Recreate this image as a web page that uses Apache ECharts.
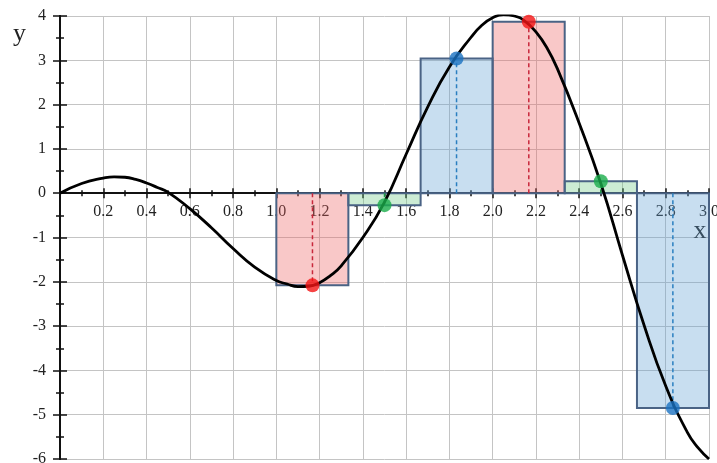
<!DOCTYPE html>
<html>
<head>
<meta charset="utf-8">
<script src="https://cdn.jsdelivr.net/npm/echarts@6/dist/echarts.min.js"></script>
<style>
html,body{margin:0;padding:0;background:#fff;}
#chart{width:717px;height:463px;}
</style>
</head>
<body>
<div id="chart"></div>
<script>
// Curve y = f(x)
const curveX = [0, 0.1, 0.2, 0.25, 0.3, 0.35, 0.4, 0.45, 0.5, 0.6, 0.7, 0.8, 0.9, 1.0, 1.05, 1.1, 1.15, 1.2, 1.25, 1.3, 1.4, 1.5, 1.6, 1.7, 1.8, 1.9, 1.95, 2.0, 2.05, 2.1, 2.15, 2.2, 2.25, 2.3, 2.4, 2.5, 2.6, 2.7, 2.8, 2.9, 2.95, 3.0];
const curveY = [0, 0.22, 0.34, 0.37, 0.36, 0.31, 0.23, 0.13, 0.02, -0.35, -0.78, -1.25, -1.67, -1.97, -2.05, -2.11, -2.1, -2.02, -1.86, -1.64, -1.0, -0.2, 0.88, 1.95, 2.85, 3.52, 3.79, 3.96, 4.03, 4.0, 3.88, 3.64, 3.29, 2.8, 1.58, 0.22, -1.4, -2.98, -4.35, -5.4, -5.75, -6.0];

// Riemann rectangles on [1, 3], sample at midpoints
const leftEdges  = [1.0, 1.333, 1.667, 2.0, 2.333, 2.667];
const rightEdges = [1.333, 1.667, 2.0, 2.333, 2.667, 3.0];
const sampleX    = [1.167, 1.5, 1.833, 2.167, 2.5, 2.833];
const sampleY    = [-2.08, -0.27, 3.04, 3.87, 0.27, -4.85];

// Axis ranges / ticks
const xMin = 0, xMax = 3.0, xStep = 0.2;
const yMin = -6, yMax = 4, yStep = 1;

// Layout
const W = 717, H = 463;
const gridL = 60, gridR = 8, gridT = 16, gridB = 4;
const plotH = H - gridT - gridB;
const zeroOffset = -plotH * (0 - yMin) / (yMax - yMin); // move x axis up to y = 0

// Styles (per rectangle kind)
const fills  = ['rgba(238,98,98,0.35)', 'rgba(109,201,132,0.35)', 'rgba(98,161,212,0.35)'];
const dashes = ['#c8283c', '#1f9a48', '#2a7fc0'];
const dots   = ['#f41414', '#19ad4a', '#1a72c2'];
const kindOf = i => i % 3;

const serif = '"Liberation Serif","DejaVu Serif",serif';

const rectData = leftEdges.map((l, i) => [l, rightEdges[i], sampleX[i], sampleY[i]]);
const curveData = curveX.map((x, i) => [x, curveY[i]]);
const dotData = sampleX.map((x, i) => ({value: [x, sampleY[i]], itemStyle: {color: dots[kindOf(i)]}}));

const chart = echarts.init(document.getElementById('chart'), null, {renderer: 'canvas'});

const baseX = {
  type: 'value', min: xMin, max: xMax, interval: xStep, position: 'bottom', offset: zeroOffset,
  axisLine: {onZero: false, lineStyle: {color: '#111', width: 2}},
  minorTick: {show: true, splitNumber: 2, length: 3, lineStyle: {color: '#111', width: 1.5}},
  axisTick: {show: true, length: 5, lineStyle: {color: '#111', width: 1.5}}
};
const baseY = {
  type: 'value', min: yMin, max: yMax, interval: yStep, position: 'left',
  axisLine: {onZero: false, lineStyle: {color: '#111', width: 2}},
  minorTick: {show: true, splitNumber: 2, length: 4, lineStyle: {color: '#111', width: 1.5}},
  axisTick: {show: true, length: 7, lineStyle: {color: '#111', width: 1.5}}
};

chart.setOption({
  animation: false,
  backgroundColor: '#fff',
  grid: {left: gridL, right: gridR, top: gridT, bottom: gridB, containLabel: false, outerBoundsMode: 'none'},
  xAxis: [
    Object.assign({}, baseX, {
      axisTick: Object.assign({}, baseX.axisTick, {inside: false}),
      splitLine: {show: true, lineStyle: {color: '#c4c4c4', width: 1}},
      axisLabel: {
        show: true, margin: 11, color: '#222', fontFamily: serif, fontSize: 16,
        verticalAlign: 'top', showMaxLabel: true, showMinLabel: true, hideOverlap: false,
        formatter: v => (v === 0 ? '' : v.toFixed(1))
      }
    }),
    Object.assign({}, baseX, {
      axisTick: Object.assign({}, baseX.axisTick, {inside: true}),
      splitLine: {show: false}, axisLabel: {show: false},
      name: 'x', nameLocation: 'end', nameGap: -9, nameMoveOverlap: false,
      nameTextStyle: {fontFamily: serif, fontSize: 26, color: '#222', align: 'center', verticalAlign: 'top', padding: [25, 0, 0, 0]}
    })
  ],
  yAxis: [
    Object.assign({}, baseY, {
      axisTick: Object.assign({}, baseY.axisTick, {inside: false}),
      splitLine: {show: true, lineStyle: {color: '#c4c4c4', width: 1}},
      axisLabel: {show: true, margin: 14, color: '#222', fontFamily: serif, fontSize: 16, showMinLabel: true, showMaxLabel: true},
      name: 'y', nameLocation: 'end', nameGap: -18,
      nameTextStyle: {fontFamily: serif, fontSize: 26, color: '#222', align: 'right', verticalAlign: 'middle', padding: [0, 34, 0, 0]}
    }),
    Object.assign({}, baseY, {
      axisTick: Object.assign({}, baseY.axisTick, {inside: true}),
      splitLine: {show: false}, axisLabel: {show: false}
    })
  ],
  series: [
    {
      type: 'custom', z: 2, xAxisIndex: 0, yAxisIndex: 0,
      data: rectData,
      encode: {x: [0, 1, 2], y: 3},
      renderItem: function (params, api) {
        const i = params.dataIndex;
        const k = kindOf(i);
        const x0 = api.value(0), x1 = api.value(1), xm = api.value(2), h = api.value(3);
        const a = api.coord([x0, 0]);
        const b = api.coord([x1, h]);
        const m0 = api.coord([xm, 0]);
        const m1 = api.coord([xm, h]);
        return {
          type: 'group',
          children: [
            {
              type: 'rect',
              shape: {x: Math.min(a[0], b[0]), y: Math.min(a[1], b[1]), width: Math.abs(b[0] - a[0]), height: Math.abs(b[1] - a[1])},
              style: {fill: fills[k], stroke: '#4a6385', lineWidth: 2}
            },
            {
              type: 'line',
              shape: {x1: m0[0], y1: m0[1], x2: m1[0], y2: m1[1]},
              style: {stroke: dashes[k], lineWidth: 1.5, lineDash: [4, 3]}
            }
          ]
        };
      }
    },
    {
      type: 'line', z: 3, data: curveData, smooth: 0.5, showSymbol: false, symbol: 'none',
      lineStyle: {color: '#000', width: 2.8}
    },
    {
      type: 'scatter', z: 4, data: dotData, symbolSize: 14
    }
  ]
});
</script>
</body>
</html>
